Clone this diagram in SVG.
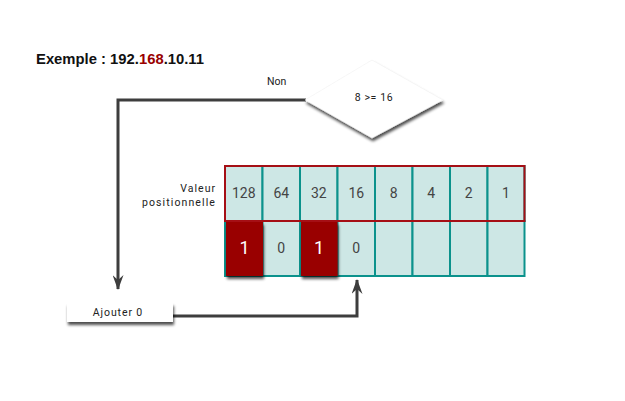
<svg xmlns="http://www.w3.org/2000/svg" width="625" height="401" viewBox="0 0 625 401">
<style>
text{font-family:"Roboto","Liberation Sans",sans-serif}
.cell{fill:#cde7e5;stroke:#0b928c;stroke-width:2}
.red{fill:#990000}
.num{font-size:14px;fill:#444;text-anchor:middle}
.big{font-size:18px;text-anchor:middle}
.lbl{font-size:10.5px;fill:#222}
.conn{fill:none;stroke:#3d3d3d;stroke-width:3}
</style>
<defs>
<filter id="sh" x="-20%" y="-20%" width="150%" height="160%">
<feGaussianBlur in="SourceAlpha" stdDeviation="1.5"/>
<feOffset dx="1" dy="2.5" result="b"/>
<feComponentTransfer><feFuncA type="linear" slope="0.7"/></feComponentTransfer>
<feMerge><feMergeNode/><feMergeNode in="SourceGraphic"/></feMerge>
</filter>
<marker id="ah" markerWidth="15" markerHeight="11" viewBox="0 0 15 11" refX="14" refY="5.5" orient="auto" markerUnits="userSpaceOnUse">
<path d="M0,0 L15,5.5 L0,11 L5,5.5 Z" fill="#3d3d3d"/>
</marker>
</defs>
<rect width="625" height="401" fill="#fff"/>
<text x="36" y="64" font-size="15" font-weight="bold" fill="#111" style="font-family:'Liberation Sans',Arial,sans-serif" textLength="168" lengthAdjust="spacingAndGlyphs">Exemple : 192.<tspan fill="#990000">168</tspan>.10.11</text>

<g id="connectors">
<path class="conn" d="M306,100 H118 V289" marker-end="url(#ah)"/>
<path class="conn" d="M173,316 H357 V280" marker-end="url(#ah)"/>
</g>
<text class="lbl" x="267" y="85">Non</text>

<g id="decision">
<polygon points="372,60 443,100 372,138 305,100" fill="#fff" filter="url(#sh)" stroke="#eee" stroke-width="0.5" stroke-linejoin="round"/>
<text class="lbl" x="374" y="101" text-anchor="middle" font-size="11" letter-spacing="0.6">8 &gt;= 16</text>
</g>

<g id="label-valeur">
<text class="lbl" x="216" y="192" text-anchor="end" letter-spacing="1">Valeur</text>
<text class="lbl" x="216" y="206" text-anchor="end" letter-spacing="1.1">positionnelle</text>
</g>

<g id="table">
<rect class="cell" x="225" y="166" width="37.5" height="55"/>
<rect class="cell" x="262.5" y="166" width="37.5" height="55"/>
<rect class="cell" x="300" y="166" width="37.5" height="55"/>
<rect class="cell" x="337.5" y="166" width="37.5" height="55"/>
<rect class="cell" x="375" y="166" width="37.5" height="55"/>
<rect class="cell" x="412.5" y="166" width="37.5" height="55"/>
<rect class="cell" x="450" y="166" width="37.5" height="55"/>
<rect class="cell" x="487.5" y="166" width="37" height="55"/>
<rect class="cell" x="225" y="221" width="37.5" height="55"/>
<rect class="cell" x="262.5" y="221" width="37.5" height="55"/>
<rect class="cell" x="300" y="221" width="37.5" height="55"/>
<rect class="cell" x="337.5" y="221" width="37.5" height="55"/>
<rect class="cell" x="375" y="221" width="37.5" height="55"/>
<rect class="cell" x="412.5" y="221" width="37.5" height="55"/>
<rect class="cell" x="450" y="221" width="37.5" height="55"/>
<rect class="cell" x="487.5" y="221" width="37" height="55"/>
<rect x="225" y="166" width="299.5" height="55" fill="none" stroke="#a50f15" stroke-width="2"/>
<rect class="red" x="226" y="222" width="37" height="54" filter="url(#sh)"/>
<rect class="red" x="301" y="222" width="36.5" height="54" filter="url(#sh)"/>
<text class="num" x="243.75" y="198">128</text>
<text class="num" x="281.25" y="198">64</text>
<text class="num" x="318.75" y="198">32</text>
<text class="num" x="356.25" y="198">16</text>
<text class="num" x="393.75" y="198">8</text>
<text class="num" x="431.25" y="198">4</text>
<text class="num" x="468.75" y="198">2</text>
<text class="num" x="506" y="198">1</text>
<text class="big" x="244.5" y="254" fill="#fff">1</text>
<text class="num" x="281.25" y="253">0</text>
<text class="big" x="319" y="254" fill="#fff">1</text>
<text class="num" x="356.25" y="253">0</text>
</g>

<g id="ajouter">
<rect x="67" y="303" width="106" height="19" fill="#fff" filter="url(#sh)"/>
<text class="lbl" x="118" y="316" text-anchor="middle" font-size="11" letter-spacing="0.9">Ajouter 0</text>
</g>
</svg>
